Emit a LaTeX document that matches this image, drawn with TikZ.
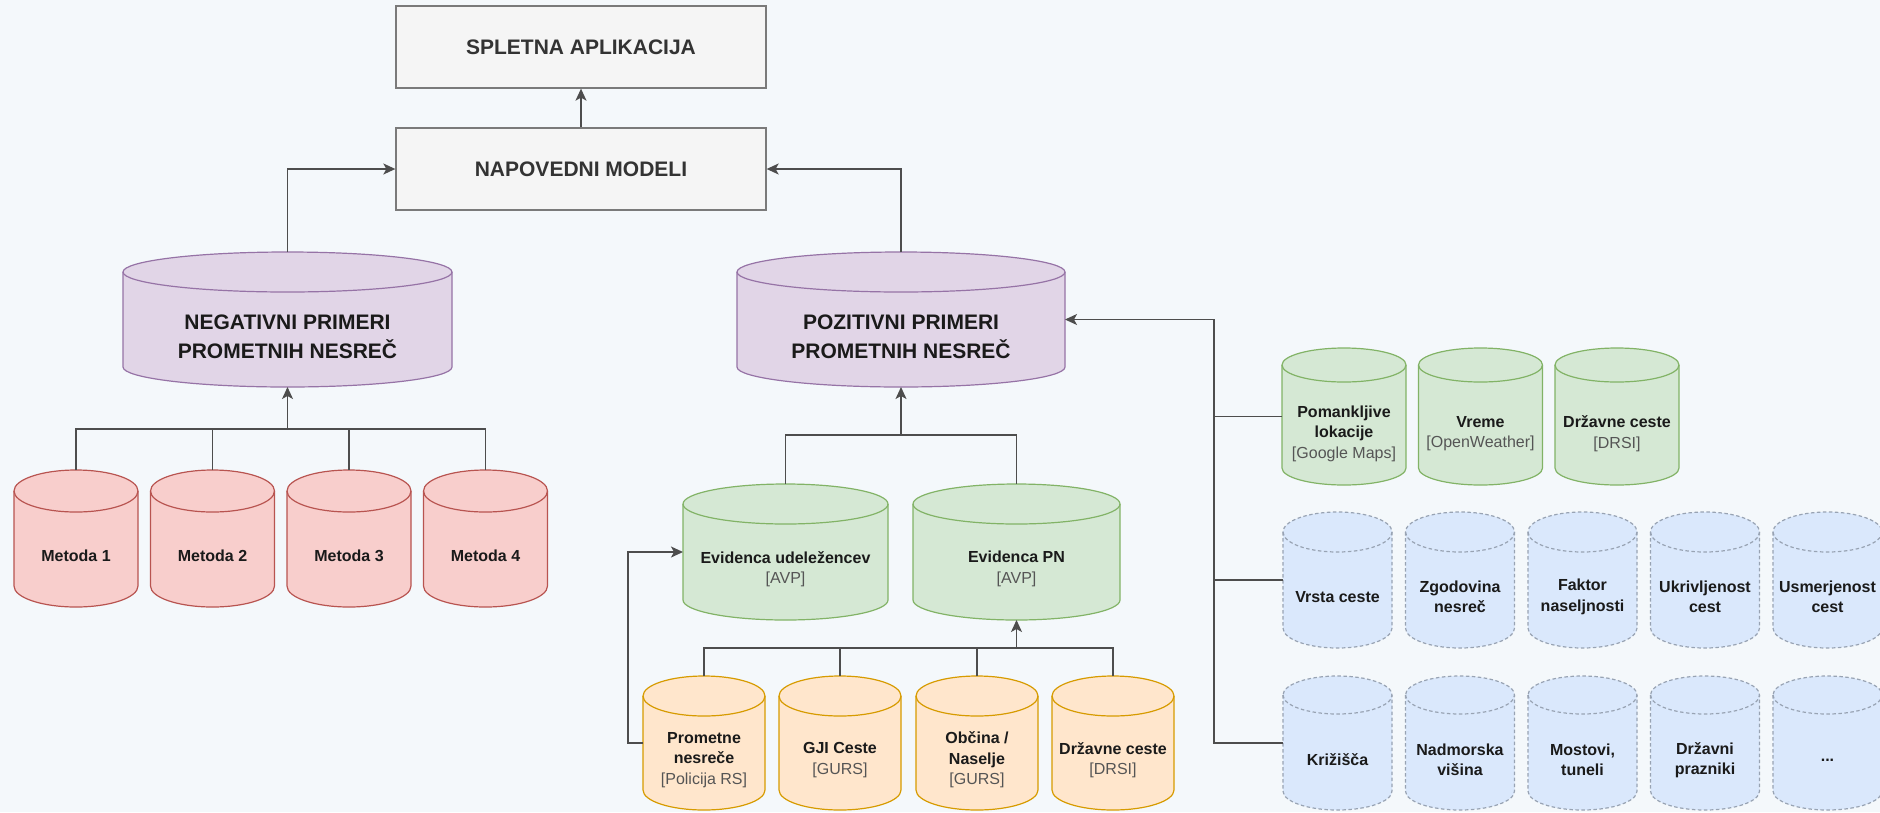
\documentclass[tikz,border=0pt]{standalone}
\usepackage{fontspec}
\setmainfont{Liberation Sans}
\usetikzlibrary{arrows.meta,calc}
\definecolor{bgc}{HTML}{F4F8FB}
\definecolor{boxF}{HTML}{F5F5F5}
\definecolor{boxS}{HTML}{7A7A7A}
\definecolor{boxT}{HTML}{333333}
\definecolor{purF}{HTML}{E1D5E7}
\definecolor{purS}{HTML}{9673A6}
\definecolor{redF}{HTML}{F8CECC}
\definecolor{redS}{HTML}{B85450}
\definecolor{grnF}{HTML}{D5E8D4}
\definecolor{grnS}{HTML}{82B366}
\definecolor{orgF}{HTML}{FFE6CC}
\definecolor{orgS}{HTML}{D79B00}
\definecolor{bluF}{HTML}{DAE8FC}
\definecolor{bluS}{HTML}{98A3B3}
\definecolor{lineC}{HTML}{4D4D4D}
\definecolor{txtC}{HTML}{1A1A1A}
\definecolor{srcC}{HTML}{555555}
\newcommand\bigf{\fontsize{21}{29}\selectfont\bfseries}
\newcommand\smallf{\fontsize{16}{20.5}\selectfont\bfseries}
\newcommand\srcf{\mdseries\color{srcC}}
\tikzset{
  conn/.style={draw=lineC, line width=1.4pt},
  arr/.style={conn, -{Stealth[length=12pt,width=11pt,inset=3pt]}},
  gbox/.style={draw=boxS, fill=boxF, line width=1.3pt, text=boxT, font=\bigf, inner sep=0pt},
  cpur/.style={draw=purS, fill=purF, line width=1.2pt},
  cred/.style={draw=redS, fill=redF, line width=1.2pt},
  cgrn/.style={draw=grnS, fill=grnF, line width=1.2pt},
  corg/.style={draw=orgS, fill=orgF, line width=1.2pt},
  cblu/.style={draw=bluS, fill=bluF, line width=1.2pt, dash pattern=on 3.5pt off 2.5pt},
  cyltxt/.style={align=center, text=txtC, inner sep=0pt},
  hold/.style={inner sep=0pt, outer sep=0pt},
}
% #1 name #2 left #3 top #4 w #5 h #6 ry #7 style #8 font #9 text
\newcommand\dbcyl[9]{%
  \path[#7] (#2,{-(#3)-(#6)}) -- (#2,{-(#3)-(#5)+(#6)})
    arc[start angle=180,end angle=360,x radius={(#4)/2},y radius=#6]
    -- ({(#2)+(#4)},{-(#3)-(#6)})
    arc[start angle=0,end angle=180,x radius={(#4)/2},y radius=#6] -- cycle;
  \path[#7,fill=none] (#2,{-(#3)-(#6)})
    arc[start angle=180,end angle=360,x radius={(#4)/2},y radius=#6];
  \node[hold,minimum width=#4pt,minimum height=#5pt,anchor=north west] (#1) at (#2,{-(#3)}) {};
  \node[cyltxt,font=#8] (#1-t) at ([yshift=-17pt]#1.center) {#9};
}
\begin{document}
\begin{tikzpicture}[x=1pt,y=1pt]
\fill[bgc] (0,0) rectangle (1880,-812);
\useasboundingbox (0,0) rectangle (1880,-812);

% boxes
\node[gbox, minimum width=370pt, minimum height=82pt] (web) at (581,-47) {SPLETNA APLIKACIJA};
\node[gbox, minimum width=370pt, minimum height=82pt] (models) at (581,-169) {NAPOVEDNI MODELI};

% main cylinders
\dbcyl{neg}{123}{252}{329}{135}{20}{cpur}{\bigf}{NEGATIVNI PRIMERI\\PROMETNIH NESREČ}
\dbcyl{pos}{737}{252}{328}{135}{20}{cpur}{\bigf}{POZITIVNI PRIMERI\\PROMETNIH NESREČ}

% methods
\dbcyl{m1}{14}{470}{124}{137}{21}{cred}{\smallf}{Metoda 1}
\dbcyl{m2}{150.5}{470}{124}{137}{21}{cred}{\smallf}{Metoda 2}
\dbcyl{m3}{287}{470}{124}{137}{21}{cred}{\smallf}{Metoda 3}
\dbcyl{m4}{423.5}{470}{124}{137}{21}{cred}{\smallf}{Metoda 4}

% evidence
\dbcyl{ev1}{683}{484}{205}{136}{20}{cgrn}{\smallf}{Evidenca udeležencev\\{\srcf [AVP]}}
\dbcyl{ev2}{913}{484}{207}{136}{20}{cgrn}{\smallf}{Evidenca PN\\{\srcf [AVP]}}

% orange sources
\dbcyl{o1}{643}{676}{122}{134}{20}{corg}{\smallf}{Prometne\\nesreče\\{\srcf [Policija RS]}}
\dbcyl{o2}{779}{676}{122}{134}{20}{corg}{\smallf}{GJI Ceste\\{\srcf [GURS]}}
\dbcyl{o3}{916}{676}{122}{134}{20}{corg}{\smallf}{Občina /\\Naselje\\{\srcf [GURS]}}
\dbcyl{o4}{1052}{676}{122}{134}{20}{corg}{\smallf}{Državne ceste\\{\srcf [DRSI]}}

% green right
\dbcyl{g1}{1282}{348}{124}{137}{17}{cgrn}{\smallf}{Pomankljive\\lokacije\\{\srcf [Google Maps]}}
\dbcyl{g2}{1418.5}{348}{124}{137}{17}{cgrn}{\smallf}{Vreme\\{\srcf [OpenWeather]}}
\dbcyl{g3}{1555}{348}{124}{137}{17}{cgrn}{\smallf}{Državne ceste\\{\srcf [DRSI]}}

% blue row 1
\dbcyl{b1}{1283}{512}{109}{136}{20}{cblu}{\smallf}{Vrsta ceste}
\dbcyl{b2}{1405.5}{512}{109}{136}{20}{cblu}{\smallf}{Zgodovina\\nesreč}
\dbcyl{b3}{1528}{512}{109}{136}{20}{cblu}{\smallf}{Faktor\\naseljnosti}
\dbcyl{b4}{1650.5}{512}{109}{136}{20}{cblu}{\smallf}{Ukrivljenost\\cest}
\dbcyl{b5}{1773}{512}{109}{136}{20}{cblu}{\smallf}{Usmerjenost\\cest}

% blue row 2
\dbcyl{c1}{1283}{676}{109}{134}{19}{cblu}{\smallf}{Križišča}
\dbcyl{c2}{1405.5}{676}{109}{134}{19}{cblu}{\smallf}{Nadmorska\\višina}
\dbcyl{c3}{1528}{676}{109}{134}{19}{cblu}{\smallf}{Mostovi,\\tuneli}
\dbcyl{c4}{1650.5}{676}{109}{134}{19}{cblu}{\smallf}{Državni\\prazniki}
\dbcyl{c5}{1773}{676}{109}{134}{19}{cblu}{\smallf}{...}

% coordinates
\coordinate (negbus) at (287.5,-429);
\coordinate (posbus) at (901,-435);
\coordinate (evbus) at (1016.5,-648);
\coordinate (lft) at (628,-600);
\coordinate (trunk) at (1214,-319.5);

% connectors
\draw[arr] (models.north) -- (web.south);
\draw[arr] (neg.north) |- (models.west);
\draw[arr] (pos.north) |- (models.east);

\draw[conn] (m1.north) |- (negbus) -| (m4.north);
\draw[conn] (m2.north) -- (m2.north |- negbus);
\draw[conn] (m3.north) -- (m3.north |- negbus);
\draw[arr] (negbus) -- (neg.south);

\draw[conn] (ev1.north) |- (posbus) -| (ev2.north);
\draw[arr] (posbus) -- (pos.south);

\draw[conn] (o1.north) |- (evbus) -| (o4.north);
\draw[conn] (o2.north) -- (o2.north |- evbus);
\draw[conn] (o3.north) -- (o3.north |- evbus);
\draw[arr] (evbus) -- (ev2.south);

\draw[arr] (o1.west) -- (o1.west -| lft) |- (ev1.west);

\draw[arr] (c1.west) -| (trunk) -- (pos.east);
\draw[conn] (g1.west) -- (g1.west -| trunk);
\draw[conn] (b1.west) -- (b1.west -| trunk);
\end{tikzpicture}
\end{document}
